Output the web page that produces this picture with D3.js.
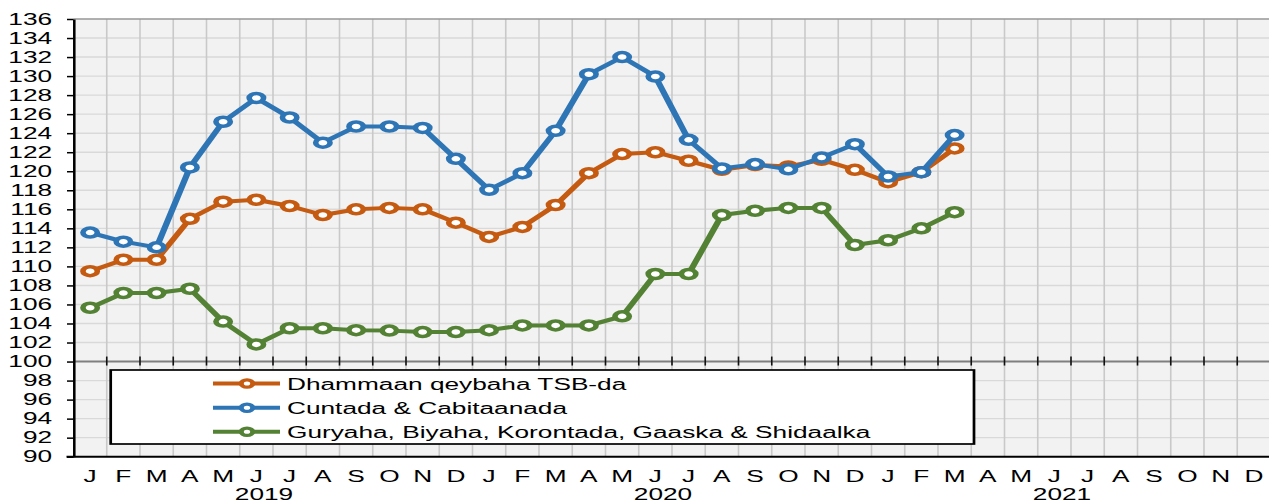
<!DOCTYPE html>
<html>
<head>
<meta charset="utf-8">
<script src="https://cdn.jsdelivr.net/npm/d3@7"></script>
<style>
  html, body { margin: 0; padding: 0; background: #fff; }
  svg { display: block; }
  text { font-family: "Liberation Sans", Arial, sans-serif; }
</style>
</head>
<body>
<svg id="chart" width="1269" height="502"></svg>
<script>
// ---- data ----
const monthLabels = ["J","F","M","A","M","J","J","A","S","O","N","D",
                     "J","F","M","A","M","J","J","A","S","O","N","D",
                     "J","F","M","A","M","J","J","A","S","O","N","D"];
const yearLabels = ["2019", "2020", "2021"];
const yTicks = [90,92,94,96,98,100,102,104,106,108,110,112,114,116,118,120,122,124,126,128,130,132,134,136];

const seriesNames = ["Dhammaan qeybaha TSB-da", "Cuntada & Cabitaanada", "Guryaha, Biyaha, Korontada, Gaaska & Shidaalka"];
const dhammaan = [109.5,110.7,110.7,115.0,116.8,117.0,116.35,115.4,116.0,116.15,116.0,114.6,
                  113.1,114.15,116.45,119.8,121.8,122.0,121.1,120.15,120.65,120.5,121.2,120.15,
                  118.85,119.9,122.4];
const cuntada  = [113.55,112.6,112.0,120.4,125.2,127.7,125.65,123.0,124.7,124.7,124.55,121.3,
                  118.05,119.8,124.25,130.2,132.0,129.95,123.3,120.3,120.75,120.2,121.45,122.85,
                  119.45,119.9,123.8];
const guryaha  = [105.65,107.2,107.2,107.65,104.2,101.8,103.5,103.5,103.3,103.25,103.1,103.1,
                  103.3,103.8,103.8,103.8,104.75,109.2,109.2,115.4,115.85,116.15,116.15,112.25,
                  112.75,114.0,115.7];
const seriesColors = ["#C55A11", "#2E75B6", "#548235"];

// ---- layout ----
const S = 1.6;                 // horizontal stretch of the original picture
const FS = 16.4;
const X0 = 73.5 / S, X1 = 1270.5 / S;
const YTOP = 19, YBOT = 456.7;

const svg = d3.select("#chart");
const g = svg.append("g").attr("transform", `scale(${S},1)`);

const x = d3.scaleBand().domain(d3.range(monthLabels.length)).range([X0, X1]).paddingInner(0).paddingOuter(0);
const y = d3.scaleLinear().domain([90, 136]).range([YBOT, YTOP]);
const bw = x.bandwidth();
const cx = i => x(i) + bw / 2;
const boundary = k => X0 + k * bw;

// plot background
g.append("rect").attr("x", X0).attr("y", YTOP).attr("width", X1 - X0).attr("height", YBOT - YTOP)
  .attr("fill", "#F2F2F2");

// horizontal gridlines
g.append("g").selectAll("line").data(yTicks.filter(v => v > 90 && v !== 100)).join("line")
  .attr("x1", X0).attr("x2", X1).attr("y1", d => y(d)).attr("y2", d => y(d))
  .attr("stroke", "#D9D9D9").attr("stroke-width", 1.4);

// vertical gridlines
g.append("g").selectAll("line").data(d3.range(1, monthLabels.length)).join("line")
  .attr("x1", d => boundary(d)).attr("x2", d => boundary(d)).attr("y1", YTOP).attr("y2", YBOT)
  .attr("stroke", "#C9C9C9").attr("stroke-width", 1);

// top border
g.append("line").attr("x1", X0).attr("x2", X1).attr("y1", YTOP).attr("y2", YTOP)
  .attr("stroke", "#7F7F7F").attr("stroke-width", 1.2);

// 100 axis line with ticks
g.append("line").attr("x1", X0).attr("x2", X1).attr("y1", y(100)).attr("y2", y(100))
  .attr("stroke", "#7F7F7F").attr("stroke-width", 2);
g.append("g").selectAll("line").data(d3.range(1, monthLabels.length + 1)).join("line")
  .attr("x1", d => boundary(d)).attr("x2", d => boundary(d))
  .attr("y1", y(100) - 5).attr("y2", y(100) + 4)
  .attr("stroke", "#111").attr("stroke-width", 1);

// y axis
const yAxis = g.append("g").attr("transform", `translate(${X0},0)`)
  .call(d3.axisLeft(y).tickValues(yTicks).tickSize(6.5 / S).tickSizeOuter(0).tickPadding(9.3));
yAxis.select(".domain").attr("stroke", "#000").attr("stroke-width", 1.6);
yAxis.selectAll(".tick line").attr("stroke", "#000").attr("stroke-width", 1.5);
yAxis.selectAll(".tick text").attr("font-size", FS).attr("fill", "#000")
  .attr("font-family", "Liberation Sans, Arial, sans-serif");

// bottom axis line
g.append("line").attr("x1", X0 - 7 / S).attr("x2", X1).attr("y1", YBOT).attr("y2", YBOT)
  .attr("stroke", "#000").attr("stroke-width", 2);

// x axis month labels
const xAxis = g.append("g").attr("transform", `translate(0,${YBOT})`)
  .call(d3.axisBottom(x).tickFormat(i => monthLabels[i]).tickSize(0).tickPadding(13.7));
xAxis.select(".domain").remove();
xAxis.selectAll(".tick text").attr("font-size", FS).attr("fill", "#000")
  .attr("font-family", "Liberation Sans, Arial, sans-serif");

// year labels
g.append("g").selectAll("text").data(yearLabels).join("text")
  .attr("x", (d, i) => boundary(12 * i + 6) - 9 / S)
  .attr("y", 499.7)
  .attr("text-anchor", "middle").attr("font-size", FS).attr("fill", "#000")
  .text(d => d);

// legend
const legend = g.append("g");
legend.append("rect").attr("x", 110.7 / S).attr("y", 370).attr("width", (974 - 110.7) / S).attr("height", 74)
  .attr("fill", "#fff").attr("stroke", "#000").attr("stroke-width", 1.7);
const legendRows = [383.5, 407.8, 431.8];
seriesNames.forEach((name, i) => {
  const ly = legendRows[i];
  legend.append("line").attr("x1", 213 / S).attr("x2", 280 / S).attr("y1", ly).attr("y2", ly)
    .attr("stroke", seriesColors[i]).attr("stroke-width", 4);
  legend.append("circle").attr("cx", 247 / S).attr("cy", ly).attr("r", 3.6)
    .attr("fill", "#fff").attr("stroke", seriesColors[i]).attr("stroke-width", 3.2);
  legend.append("text").attr("x", 287 / S).attr("y", ly + 6.5)
    .attr("font-size", FS).attr("fill", "#000").text(name);
});

// series
const allSeries = [dhammaan, cuntada, guryaha];
const line = d3.line().x((d, i) => cx(i)).y(d => y(d));
allSeries.forEach((vals, si) => {
  const sg = g.append("g");
  sg.append("path").datum(vals).attr("d", line)
    .attr("fill", "none").attr("stroke", seriesColors[si]).attr("stroke-width", 4)
    .attr("stroke-linejoin", "round");
  sg.selectAll("circle").data(vals).join("circle")
    .attr("cx", (d, i) => cx(i)).attr("cy", d => y(d)).attr("r", 4.5)
    .attr("fill", "#fff").attr("stroke", seriesColors[si]).attr("stroke-width", 3.5);
});
</script>
</body>
</html>
